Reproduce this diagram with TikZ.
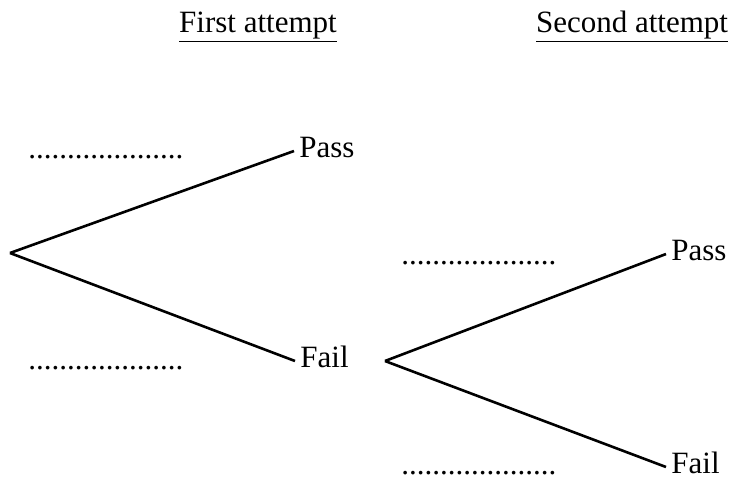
\documentclass[tikz,border=0pt]{standalone}
\usepackage{fontspec}
\setmainfont{Liberation Serif}
\begin{document}
\begin{tikzpicture}[x=0.5pt,y=-0.5pt,
		every node/.style={font=\fontsize{15.5}{18}\selectfont},
		outcome/.style={anchor=west,inner xsep=2.5pt,inner ysep=0pt,text height=0.66em,text depth=0pt},
		blank/.style={anchor=base west,inner sep=0pt},
		branch/.style={line width=1.3pt}]
		\useasboundingbox (0,0) rectangle (731,494);
		% column headings
		\node [anchor=base] (head1) at (258,32) {\underline{First attempt}};
		\node [anchor=base] (head2) at (632,32) {\underline{Second attempt}};
		% first attempt
		\coordinate (root) at (10,253);
		\node [outcome] (pass1) at (294,151) {Pass};
		\node [outcome] (fail1) at (295,361) {Fail};
		\draw [branch] (root) -- (pass1.west);
		\draw [branch] (root) -- (fail1.west);
		\node [blank] (gap1) at (28,158) {....................};
		\node [blank] (gap2) at (28,369) {....................};
		% second attempt
		\coordinate (fork) at (385,361);
		\node [outcome] (pass2) at (666,254) {Pass};
		\node [outcome] (fail2) at (666,467) {Fail};
		\draw [branch] (fork) -- (pass2.west);
		\draw [branch] (fork) -- (fail2.west);
		\node [blank] (gap3) at (401,264) {....................};
		\node [blank] (gap4) at (401,474) {....................};
\end{tikzpicture}
\end{document}
